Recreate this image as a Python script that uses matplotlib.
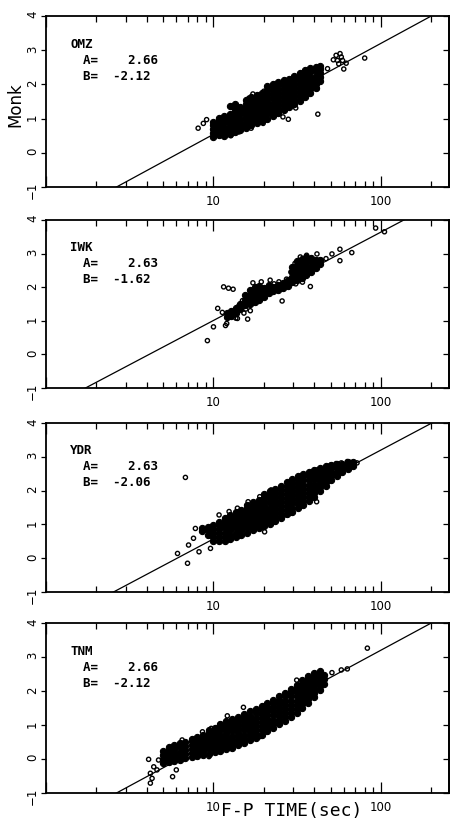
import matplotlib.pyplot as plt
import numpy as np
from matplotlib.ticker import LogLocator, NullFormatter

# station names and fit coefficients  M = A*log10(T) + B
stations = ['OMZ', 'IWK', 'YDR', 'TNM']
coef_a = [2.66, 2.63, 2.63, 2.66]
coef_b = [-2.12, -1.62, -2.06, -2.12]

# ---- OMZ : dense band read column by column, then the loose points
omz_band_t = [10.0, 10.8, 11.6, 12.5, 13.5, 14.5, 15.6, 16.8, 18.1, 19.5, 21.0,
              22.6, 24.3, 26.2, 28.2, 30.4, 32.7, 35.2, 37.9, 40.8, 43.5]
omz_band_m = [[0.46, 0.57, 0.69, 0.80, 0.91],
              [0.52, 0.63, 0.74, 0.85, 0.96, 1.02],
              [0.50, 0.61, 0.73, 0.86, 0.97, 1.08],
              [0.56, 0.67, 0.78, 0.90, 1.02, 1.13, 1.38],
              [0.62, 0.73, 0.84, 0.96, 1.08, 1.20, 1.30, 1.42],
              [0.66, 0.77, 0.88, 1.00, 1.12, 1.24, 1.35],
              [0.73, 0.84, 0.96, 1.08, 1.20, 1.32, 1.44, 1.55],
              [0.81, 0.92, 1.04, 1.16, 1.28, 1.40, 1.52, 1.64],
              [0.87, 0.98, 1.10, 1.22, 1.34, 1.46, 1.58, 1.70],
              [0.94, 1.05, 1.17, 1.29, 1.41, 1.53, 1.65, 1.76],
              [1.00, 1.12, 1.24, 1.36, 1.48, 1.60, 1.72, 1.84, 1.95],
              [1.08, 1.20, 1.32, 1.44, 1.56, 1.68, 1.80, 1.92, 2.01],
              [1.16, 1.28, 1.40, 1.52, 1.64, 1.76, 1.88, 2.00, 2.07],
              [1.24, 1.36, 1.48, 1.60, 1.72, 1.84, 1.96, 2.08, 2.13],
              [1.33, 1.45, 1.57, 1.69, 1.81, 1.93, 2.05, 2.16],
              [1.42, 1.54, 1.66, 1.78, 1.90, 2.02, 2.14, 2.24],
              [1.50, 1.62, 1.74, 1.86, 1.98, 2.10, 2.22, 2.33],
              [1.62, 1.74, 1.86, 1.98, 2.10, 2.22, 2.34, 2.43],
              [1.75, 1.87, 1.99, 2.11, 2.23, 2.35, 2.47],
              [1.90, 2.02, 2.14, 2.26, 2.38, 2.50],
              [2.10, 2.22, 2.34, 2.46, 2.55]]
omz_pts_t = [8.1, 8.7, 9.1, 10.3, 11.5, 12.7, 14.2, 15.2, 16.8, 16.3, 13.2, 17.2,
             19.8, 20.0, 24.4, 26.0, 28.0, 31.0, 42.0, 41.5, 48.0, 52.0, 54.0,
             56.0, 57.0, 59.0, 60.0, 62.0, 58.0, 55.0, 80.0]
omz_pts_m = [0.72, 0.86, 0.97, 0.50, 0.97, 0.50, 0.61, 0.79, 0.72, 1.60, 1.30, 1.72,
             0.86, 1.80, 1.97, 1.05, 0.98, 1.31, 1.13, 1.87, 2.46, 2.72, 2.85,
             2.60, 2.90, 2.70, 2.45, 2.62, 2.80, 2.70, 2.77]

# ---- IWK
iwk_band_t = [12.0, 12.8, 13.6, 14.5, 15.5, 16.5, 17.6, 18.8, 20.0, 21.4, 22.8,
              24.3, 26.0, 27.7, 29.6, 31.5, 33.6, 35.8, 38.2, 40.7, 43.4]
iwk_band_m = [[1.10, 1.22],
              [1.15, 1.30],
              [1.22, 1.38],
              [1.35, 1.50],
              [1.48, 1.62, 1.78],
              [1.50, 1.64, 1.78, 1.92],
              [1.55, 1.70, 1.85, 2.00],
              [1.62, 1.76, 1.90, 2.04],
              [1.72, 1.84, 1.98],
              [1.82, 1.95, 2.08],
              [1.88, 2.02],
              [1.92, 2.06],
              [1.98, 2.12],
              [2.05, 2.20],
              [2.15, 2.30, 2.45, 2.60],
              [2.22, 2.36, 2.50, 2.65, 2.78],
              [2.28, 2.42, 2.56, 2.70, 2.84],
              [2.36, 2.50, 2.64, 2.78, 2.90],
              [2.45, 2.60, 2.74, 2.86],
              [2.56, 2.70, 2.82],
              [2.70, 2.82]]
iwk_pts_t = [9.2, 10.0, 11.8, 10.6, 11.5, 12.3, 13.1, 13.9, 15.2, 16.0, 14.9,
             17.2, 19.3, 21.8, 24.6, 25.7, 27.3, 30.7, 37.9, 41.5, 51.0, 56.9,
             56.9, 67.0, 93.0, 105.0, 13.6, 12.5, 11.3, 14.2, 15.6, 23.0, 29.0,
             33.0, 36.0, 44.0, 47.0, 31.0, 34.0, 12.0, 16.6]
iwk_pts_m = [0.41, 0.82, 0.86, 1.37, 2.01, 1.97, 1.94, 1.07, 1.23, 1.05, 1.60,
             2.13, 2.16, 2.21, 2.16, 1.59, 2.24, 2.71, 2.02, 2.99, 2.99, 3.13,
             2.79, 3.03, 3.76, 3.65, 1.08, 1.15, 1.25, 1.45, 1.35, 2.10, 2.45,
             2.90, 2.95, 2.80, 2.85, 2.10, 2.15, 0.92, 1.30]

# ---- YDR
ydr_band_t = [8.6, 9.3, 10.0, 10.8, 11.7, 12.6, 13.6, 14.7, 15.9, 17.2, 18.6,
              20.1, 21.7, 23.4, 25.3, 27.3, 29.5, 31.9, 34.4, 37.2, 40.1, 43.3,
              46.8, 50.5, 54.5, 58.9, 63.6, 68.0]
ydr_band_m = [[0.80, 0.90],
              [0.70, 0.82, 0.92],
              [0.50, 0.62, 0.74, 0.86, 0.98],
              [0.50, 0.62, 0.74, 0.86, 0.98, 1.08],
              [0.52, 0.64, 0.76, 0.88, 1.00, 1.12, 1.20],
              [0.58, 0.70, 0.82, 0.94, 1.06, 1.18, 1.28],
              [0.64, 0.76, 0.88, 1.00, 1.12, 1.24, 1.36],
              [0.70, 0.82, 0.94, 1.06, 1.18, 1.30, 1.42],
              [0.76, 0.88, 1.00, 1.12, 1.24, 1.36, 1.48, 1.58],
              [0.82, 0.94, 1.06, 1.18, 1.30, 1.42, 1.54, 1.66],
              [0.88, 1.00, 1.12, 1.24, 1.36, 1.48, 1.60, 1.72],
              [0.95, 1.07, 1.19, 1.31, 1.43, 1.55, 1.67, 1.79, 1.90],
              [1.02, 1.14, 1.26, 1.38, 1.50, 1.62, 1.74, 1.86, 1.98],
              [1.10, 1.22, 1.34, 1.46, 1.58, 1.70, 1.82, 1.94, 2.06],
              [1.18, 1.30, 1.42, 1.54, 1.66, 1.78, 1.90, 2.02, 2.14],
              [1.30, 1.42, 1.54, 1.66, 1.78, 1.90, 2.02, 2.14, 2.24],
              [1.38, 1.50, 1.62, 1.74, 1.86, 1.98, 2.10, 2.22, 2.34],
              [1.48, 1.60, 1.72, 1.84, 1.96, 2.08, 2.20, 2.32, 2.42],
              [1.58, 1.70, 1.82, 1.94, 2.06, 2.18, 2.30, 2.42, 2.50],
              [1.70, 1.82, 1.94, 2.06, 2.18, 2.30, 2.42, 2.54],
              [1.82, 1.94, 2.06, 2.18, 2.30, 2.42, 2.54, 2.62],
              [1.98, 2.10, 2.22, 2.34, 2.46, 2.58, 2.68],
              [2.14, 2.26, 2.38, 2.50, 2.62, 2.72],
              [2.30, 2.42, 2.54, 2.66, 2.76],
              [2.44, 2.56, 2.68, 2.78],
              [2.54, 2.66, 2.78],
              [2.64, 2.76, 2.84],
              [2.74, 2.84]]
ydr_pts_t = [6.8, 6.1, 7.1, 7.0, 7.6, 7.8, 8.2, 9.6, 10.6, 10.8, 12.4, 13.9,
             16.1, 18.9, 20.2, 22.1, 23.3, 27.2, 29.2, 41.3, 41.3, 50.0, 54.0,
             58.0, 63.0, 68.0, 72.0]
ydr_pts_m = [2.39, 0.14, 0.39, -0.15, 0.59, 0.88, 0.19, 0.29, 0.56, 1.28, 1.38,
             1.48, 1.67, 1.82, 0.78, 2.02, 1.08, 1.28, 1.33, 1.67, 2.61, 2.75,
             2.80, 2.82, 2.86, 2.83, 2.82]

# ---- TNM
tnm_band_t = [5.0, 5.4, 5.8, 6.3, 6.8, 7.4, 8.0, 8.7, 9.4, 10.2, 11.0, 11.9,
              12.9, 14.0, 15.2, 16.5, 17.9, 19.4, 21.0, 22.8, 24.7, 26.8, 29.0,
              31.4, 34.0, 36.8, 39.8, 43.0, 45.5]
tnm_band_m = [[-0.12, 0.00, 0.12, 0.24],
              [-0.10, 0.02, 0.14, 0.26, 0.34],
              [-0.06, 0.06, 0.18, 0.30, 0.40],
              [-0.02, 0.10, 0.22, 0.34, 0.46],
              [0.02, 0.14, 0.26, 0.38, 0.50],
              [0.05, 0.17, 0.29, 0.41, 0.53, 0.60],
              [0.08, 0.20, 0.32, 0.44, 0.56, 0.66],
              [0.12, 0.24, 0.36, 0.48, 0.60, 0.72],
              [0.16, 0.28, 0.40, 0.52, 0.64, 0.76, 0.84],
              [0.20, 0.32, 0.44, 0.56, 0.68, 0.80, 0.92],
              [0.24, 0.36, 0.48, 0.60, 0.72, 0.84, 0.96, 1.04],
              [0.28, 0.40, 0.52, 0.64, 0.76, 0.88, 1.00, 1.12],
              [0.33, 0.45, 0.57, 0.69, 0.81, 0.93, 1.05, 1.17],
              [0.40, 0.52, 0.64, 0.76, 0.88, 1.00, 1.12, 1.24],
              [0.48, 0.60, 0.72, 0.84, 0.96, 1.08, 1.20, 1.32],
              [0.55, 0.67, 0.79, 0.91, 1.03, 1.15, 1.27, 1.40],
              [0.62, 0.74, 0.86, 0.98, 1.10, 1.22, 1.34, 1.47],
              [0.72, 0.84, 0.96, 1.08, 1.20, 1.32, 1.44, 1.56],
              [0.82, 0.94, 1.06, 1.18, 1.30, 1.42, 1.54, 1.64],
              [0.92, 1.04, 1.16, 1.28, 1.40, 1.52, 1.64, 1.74],
              [1.02, 1.14, 1.26, 1.38, 1.50, 1.62, 1.74, 1.84],
              [1.12, 1.24, 1.36, 1.48, 1.60, 1.72, 1.84, 1.94],
              [1.24, 1.36, 1.48, 1.60, 1.72, 1.84, 1.96, 2.06],
              [1.36, 1.48, 1.60, 1.72, 1.84, 1.96, 2.08, 2.18],
              [1.50, 1.62, 1.74, 1.86, 1.98, 2.10, 2.22, 2.32],
              [1.64, 1.76, 1.88, 2.00, 2.12, 2.24, 2.36, 2.44],
              [1.82, 1.94, 2.06, 2.18, 2.30, 2.42, 2.52],
              [2.02, 2.14, 2.26, 2.38, 2.50, 2.58],
              [2.22, 2.34, 2.46]]
tnm_pts_t = [4.1, 4.7, 4.4, 4.2, 4.3, 4.2, 4.6, 5.7, 6.0, 6.5, 8.6, 9.7, 11.0,
             12.1, 15.1, 19.0, 24.3, 31.4, 9.4, 51.0, 58.0, 63.0, 83.0]
tnm_pts_m = [-0.01, -0.03, -0.23, -0.42, -0.57, -0.71, -0.32, -0.52, -0.32, 0.56,
             0.80, 0.90, 1.03, 1.27, 1.52, 0.66, 1.05, 2.32, 0.07, 2.54, 2.62,
             2.65, 3.26]

bands = [(omz_band_t, omz_band_m), (iwk_band_t, iwk_band_m),
         (ydr_band_t, ydr_band_m), (tnm_band_t, tnm_band_m)]
loose = [(omz_pts_t, omz_pts_m), (iwk_pts_t, iwk_pts_m),
         (ydr_pts_t, ydr_pts_m), (tnm_pts_t, tnm_pts_m)]

# panel frames in pixels (top, bottom) of the 453x823 page
W, H = 453, 823
L, R = 46, 449
frames = [(16, 187), (220, 388), (423, 592), (623, 793)]

fig = plt.figure(figsize=(W / 100, H / 100), dpi=100)
mono = 'DejaVu Sans Mono'

for i in range(4):
    top, bot = frames[i]
    ax = fig.add_axes([L / W, 1 - bot / H, (R - L) / W, (bot - top) / H])
    ax.set_xscale('log')
    ax.set_xlim(1, 255)
    ax.set_ylim(-1, 4)

    # fitted line
    xs = np.array([1.0, 255.0])
    ax.plot(xs, coef_a[i] * np.log10(xs) + coef_b[i], color='k', lw=0.9, zorder=2)

    # dense band (overlapping circles merge into a solid mass)
    bt, bm = bands[i]
    ft = [t for t, col in zip(bt, bm) for _ in col]
    fm = [m for col in bm for m in col]
    ax.scatter(ft, fm, s=20, facecolors='k', edgecolors='k', linewidths=0.8, zorder=3)
    # loose points
    pt, pm = loose[i]
    ax.scatter(pt, pm, s=9, facecolors='none', edgecolors='k', linewidths=1.0, zorder=3)

    for sp in ax.spines.values():
        sp.set_linewidth(1.3)

    ax.set_xticks([1, 10, 100])
    ax.set_xticklabels(['', '10', '100'])
    ax.xaxis.set_minor_locator(LogLocator(base=10, subs=range(2, 10)))
    ax.xaxis.set_minor_formatter(NullFormatter())
    ax.tick_params(axis='x', which='both', direction='in', top=True, width=0.9,
                   labelsize=8.5, pad=6)
    ax.tick_params(axis='x', which='major', length=8)
    ax.tick_params(axis='x', which='minor', length=4.5)

    ax.set_yticks([-1, 0, 1, 2, 3, 4])
    ax.tick_params(axis='y', which='major', direction='out', length=3.5, width=0.9,
                   labelsize=8.5, pad=1.5, labelrotation=90)
    sec = ax.secondary_yaxis('right')
    sec.set_yticks([-1, 0, 1, 2, 3, 4])
    sec.tick_params(direction='in', length=4, width=0.9, labelright=False)
    sec.spines['right'].set_linewidth(1.3)

    ax.text(0.06, 0.835, stations[i], transform=ax.transAxes, family=mono,
            fontweight='bold', fontsize=9, ha='left', va='center')
    ax.text(0.092, 0.741, 'A=    %.2f' % coef_a[i], transform=ax.transAxes,
            family=mono, fontweight='bold', fontsize=9, ha='left', va='center')
    ax.text(0.092, 0.647, 'B=  %.2f' % coef_b[i], transform=ax.transAxes,
            family=mono, fontweight='bold', fontsize=9, ha='left', va='center')

fig.text(15 / W, 1 - 105 / H, 'Monk', rotation=90, ha='center', va='center', fontsize=12)
fig.text(292 / W, 1 - 811 / H, 'F-P TIME(sec)', ha='center', va='center',
         family=mono, fontsize=13)

fig.savefig('out.png', dpi=100, facecolor='white')
